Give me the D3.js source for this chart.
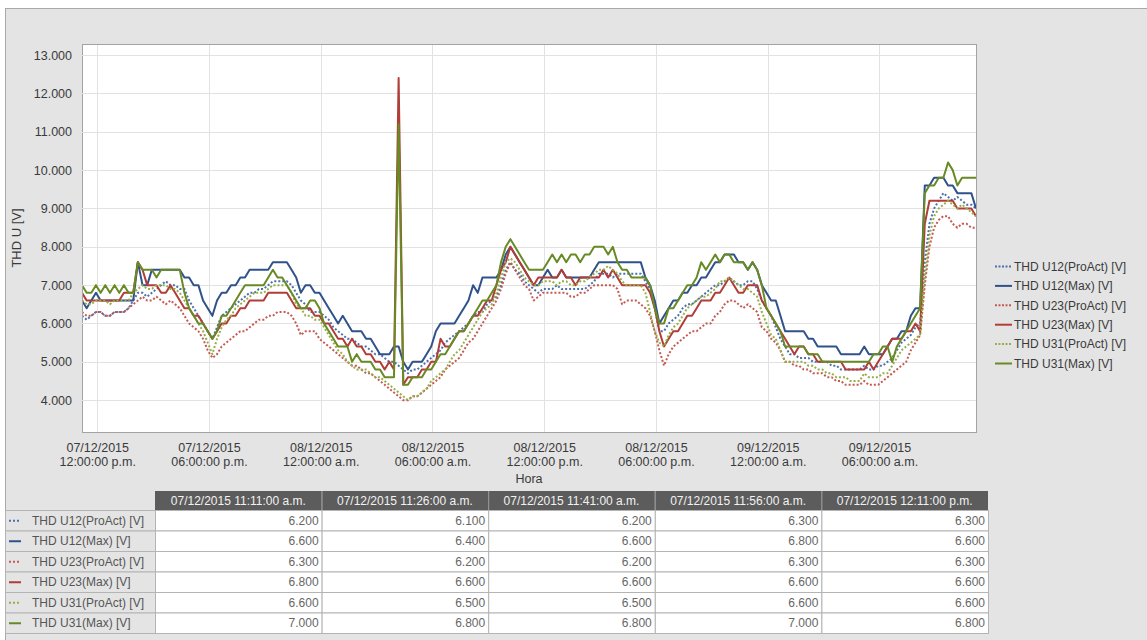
<!DOCTYPE html>
<html>
<head>
<meta charset="utf-8">
<script src="https://cdn.jsdelivr.net/npm/d3@7"></script>
<style>
  html, body { margin: 0; padding: 0; background: #fff; }
  svg { display: block; font-family: "Liberation Sans", Arial, sans-serif; }
</style>
</head>
<body>
<svg id="chart" width="1147" height="640"></svg>
<script>
// Sampling: one reading every 15 minutes, starting 07/12/2015 11:11 a.m.
const startTime = "2015-12-07T11:11:00Z";
const stepMinutes = 15;

const yTickValues = [4, 5, 6, 7, 8, 9, 10, 11, 12, 13];
const xAxisTitle = "Hora";
const yAxisTitle = "THD U [V]";

const seriesNames = [
  "THD U12(ProAct) [V]", "THD U12(Max) [V]",
  "THD U23(ProAct) [V]", "THD U23(Max) [V]",
  "THD U31(ProAct) [V]", "THD U31(Max) [V]"
];

const u12ProAct = [
  6.2,6.1,6.2,6.3,6.3,6.2,6.2,6.3,6.3,6.3,
  6.4,6.6,6.8,6.8,6.7,6.8,6.9,7.0,7.1,7.0,
  7.0,6.9,6.9,6.6,6.4,6.2,6.0,5.8,5.6,5.9,
  6.2,6.3,6.4,6.5,6.6,6.7,6.8,6.8,6.9,6.9,
  7.0,7.1,7.1,7.1,7.1,7.0,6.8,6.6,6.5,6.3,
  6.3,6.3,6.2,6.1,5.9,5.8,5.7,5.6,5.6,5.5,
  5.4,5.4,5.3,5.2,5.2,5.1,5.0,5.0,4.9,4.8,
  4.7,4.8,4.8,4.9,5.0,5.1,5.2,5.3,5.5,5.6,
  5.7,5.8,5.9,6.0,6.2,6.3,6.3,6.5,6.6,6.7,
  7.0,7.4,7.6,7.4,7.3,7.1,7.0,6.9,6.8,6.9,
  6.9,6.9,7.0,6.9,6.9,6.9,6.9,6.9,6.9,7.0,
  7.1,7.3,7.3,7.3,7.2,7.3,7.3,7.3,7.3,7.3,
  7.3,7.1,6.9,6.4,5.8,5.8,6.0,6.1,6.2,6.4,
  6.5,6.5,6.6,6.7,6.8,6.9,7.0,7.0,7.1,7.2,
  7.1,7.0,7.0,7.1,7.1,6.9,6.6,6.4,6.2,5.9,
  5.6,5.4,5.2,5.2,5.1,5.1,5.1,5.0,5.0,5.0,
  5.0,4.9,4.9,4.8,4.8,4.8,4.8,4.8,4.9,4.8,
  4.8,4.9,4.9,5.0,5.1,5.3,5.5,5.6,5.7,5.9,
  6.0,7.6,8.6,9.0,9.2,9.4,9.3,9.2,9.3,9.2,
  9.1,9.1,9.0
];

const u12Max = [
  6.6,6.4,6.6,6.8,6.6,6.6,6.6,6.6,6.6,6.6,
  6.6,6.6,7.6,7.0,7.0,7.4,7.4,7.4,7.4,7.4,
  7.4,7.4,7.2,7.2,7.0,7.0,6.6,6.4,6.2,6.6,
  6.8,6.8,7.0,7.0,7.2,7.2,7.4,7.4,7.4,7.4,
  7.4,7.6,7.6,7.6,7.6,7.4,7.2,6.8,7.0,7.0,
  6.8,6.8,6.6,6.4,6.2,6.0,6.2,6.0,5.8,5.8,
  5.8,5.6,5.6,5.4,5.2,5.2,5.2,5.4,5.4,5.0,
  4.8,5.0,5.0,5.0,5.2,5.4,5.8,6.0,6.0,6.0,
  6.0,6.2,6.4,6.6,7.0,6.8,7.2,7.2,7.2,7.2,
  7.4,7.8,8.0,7.8,7.6,7.4,7.2,7.0,7.0,7.2,
  7.4,7.2,7.2,7.4,7.2,7.2,7.2,7.2,7.2,7.2,
  7.4,7.6,7.6,7.6,7.6,7.6,7.6,7.6,7.6,7.6,
  7.6,7.2,7.0,6.6,6.0,6.2,6.4,6.6,6.6,6.8,
  6.8,7.0,7.0,7.2,7.2,7.4,7.6,7.6,7.8,7.8,
  7.8,7.6,7.6,7.4,7.6,7.4,7.0,6.8,6.6,6.6,
  6.2,5.8,5.8,5.8,5.8,5.8,5.6,5.6,5.4,5.4,
  5.4,5.4,5.4,5.2,5.2,5.2,5.2,5.2,5.4,5.2,
  5.2,5.2,5.2,5.4,5.6,5.6,5.8,5.8,6.2,6.4,
  6.4,9.6,9.6,9.8,9.8,9.8,9.6,9.6,9.4,9.4,
  9.4,9.4,9.0
];

const u23ProAct = [
  6.3,6.2,6.2,6.3,6.3,6.2,6.2,6.3,6.3,6.3,
  6.4,6.5,6.6,6.7,6.6,6.6,6.7,6.6,6.5,6.6,
  6.5,6.4,6.2,6.0,5.9,5.8,5.6,5.3,5.1,5.2,
  5.4,5.5,5.6,5.7,5.8,5.8,5.9,6.0,6.1,6.1,
  6.2,6.2,6.3,6.3,6.3,6.2,6.0,5.7,5.8,5.8,
  5.8,5.6,5.5,5.4,5.3,5.2,5.1,5.0,4.9,4.9,
  4.8,4.7,4.7,4.6,4.5,4.4,4.3,4.2,4.1,4.0,
  4.0,4.1,4.1,4.2,4.3,4.4,4.5,4.6,4.8,4.9,
  5.0,5.1,5.3,5.5,5.6,5.8,6.0,6.2,6.4,6.6,
  6.9,7.3,7.6,7.4,7.2,7.0,6.9,6.6,6.7,6.8,
  6.8,6.8,6.8,6.8,6.8,6.7,6.7,6.8,6.8,6.9,
  7.0,7.0,7.0,7.0,7.0,6.9,6.5,6.6,6.6,6.6,
  6.5,6.4,6.2,5.8,5.3,4.9,5.2,5.4,5.5,5.6,
  5.7,5.8,5.8,5.9,6.0,6.0,6.2,6.3,6.5,6.6,
  6.6,6.5,6.4,6.5,6.4,6.3,5.9,5.8,5.6,5.5,
  5.3,5.0,5.0,4.9,4.9,4.8,4.8,4.7,4.7,4.7,
  4.6,4.6,4.5,4.5,4.4,4.4,4.4,4.4,4.5,4.4,
  4.4,4.4,4.5,4.6,4.7,4.8,4.9,5.0,5.3,5.5,
  5.7,7.0,8.0,8.5,8.7,8.8,8.8,8.6,8.5,8.6,
  8.6,8.5,8.5
];

const u23Max = [
  6.8,6.6,6.6,6.6,6.6,6.6,6.6,6.6,6.6,6.8,
  6.8,6.8,7.6,7.4,7.0,7.0,7.0,6.8,6.8,7.0,
  6.8,6.6,6.4,6.4,6.2,6.2,6.0,5.8,5.6,5.8,
  6.0,6.0,6.2,6.2,6.4,6.4,6.6,6.6,6.6,6.6,
  6.8,6.8,6.8,6.8,6.8,6.6,6.4,6.4,6.4,6.4,
  6.2,6.2,6.0,6.0,5.8,5.6,5.6,5.4,5.6,5.4,
  5.4,5.2,5.2,5.0,5.0,4.8,5.0,4.8,12.4,4.4,
  4.6,4.6,4.6,4.8,4.8,5.0,5.0,5.6,5.4,5.4,
  5.6,5.8,5.8,6.0,6.2,6.2,6.4,6.6,6.6,7.0,
  7.4,7.6,8.0,7.8,7.6,7.4,7.2,7.0,7.2,7.2,
  7.2,7.2,7.2,7.4,7.2,7.2,7.0,7.2,7.2,7.2,
  7.2,7.2,7.4,7.2,7.4,7.2,7.0,7.0,7.0,7.0,
  7.0,7.0,6.8,6.4,5.8,5.4,5.6,5.8,5.8,6.0,
  6.2,6.2,6.4,6.6,6.6,6.6,6.8,6.8,7.0,7.2,
  7.0,6.8,6.8,7.0,7.0,7.0,6.6,6.4,6.2,6.0,
  5.8,5.6,5.4,5.2,5.4,5.4,5.2,5.2,5.0,5.0,
  5.0,5.0,5.0,5.0,4.8,4.8,4.8,4.8,4.8,5.0,
  4.8,5.0,5.2,5.4,5.6,5.6,5.6,5.8,5.8,6.0,
  5.8,8.6,9.2,9.2,9.2,9.2,9.2,9.2,9.0,9.0,
  9.0,9.0,8.8
];

const u31ProAct = [
  6.6,6.5,6.5,6.6,6.6,6.6,6.5,6.6,6.6,6.6,
  6.6,6.8,6.9,7.0,6.9,6.9,7.0,7.0,7.0,6.9,
  6.9,6.8,6.6,6.4,6.2,6.0,5.8,5.5,5.2,5.6,
  5.9,6.1,6.2,6.4,6.5,6.6,6.7,6.8,6.8,6.8,
  6.9,7.0,7.0,7.0,7.0,6.8,6.5,6.4,6.2,6.2,
  6.1,6.1,5.9,5.7,5.5,5.3,5.2,5.0,4.9,4.8,
  4.8,4.8,4.7,4.6,4.6,4.5,4.4,4.3,4.2,4.1,
  4.0,4.1,4.1,4.2,4.3,4.5,4.6,4.7,4.8,5.0,
  5.2,5.3,5.5,5.7,5.9,6.1,6.3,6.4,6.5,6.8,
  7.2,7.6,7.7,7.6,7.4,7.2,7.1,7.0,7.0,7.1,
  7.1,7.1,7.0,7.1,7.1,7.0,7.0,7.1,7.1,7.2,
  7.3,7.4,7.4,7.5,7.4,7.3,7.1,7.0,7.0,7.0,
  7.0,6.8,6.3,5.8,5.5,5.4,5.7,5.9,6.0,6.2,
  6.4,6.5,6.6,6.7,6.7,6.8,6.9,7.1,7.1,7.2,
  7.1,7.0,6.9,6.9,6.8,6.7,6.3,6.0,5.7,5.6,
  5.3,5.0,5.0,5.0,5.0,5.0,4.9,4.9,4.8,4.8,
  4.7,4.7,4.6,4.6,4.6,4.5,4.5,4.5,4.7,4.6,
  4.6,4.6,4.7,4.7,4.9,5.1,5.3,5.4,5.5,5.6,
  5.7,7.2,8.3,8.8,9.0,9.1,9.2,9.1,9.0,9.1,
  9.0,8.9,8.8
];

const u31Max = [
  7.0,6.8,6.8,7.0,6.8,7.0,6.8,7.0,6.8,7.0,
  6.8,6.8,7.6,7.4,7.4,7.4,7.2,7.4,7.4,7.4,
  7.4,7.4,6.8,6.4,6.2,6.0,6.0,5.8,5.6,5.8,
  6.2,6.2,6.4,6.6,6.8,7.0,7.0,7.0,7.0,7.0,
  7.2,7.4,7.2,7.2,7.0,6.8,6.6,6.4,6.4,6.6,
  6.6,6.4,6.0,5.8,5.6,5.4,5.4,5.4,5.0,5.2,
  5.0,5.0,5.0,4.8,4.8,4.6,4.6,4.6,11.2,4.4,
  4.4,4.6,4.6,4.6,4.8,4.8,5.0,5.2,5.2,5.4,
  5.6,5.8,5.8,6.0,6.2,6.4,6.6,6.6,6.8,7.0,
  7.6,8.0,8.2,8.0,7.8,7.6,7.4,7.4,7.4,7.4,
  7.6,7.8,7.6,7.8,7.6,7.8,7.8,7.6,7.8,7.8,
  8.0,8.0,8.0,7.8,8.0,7.6,7.4,7.4,7.2,7.2,
  7.2,7.2,7.0,6.4,6.0,6.0,6.4,6.4,6.6,6.8,
  7.0,7.0,7.2,7.6,7.4,7.6,7.8,7.6,7.8,7.8,
  7.6,7.6,7.6,7.4,7.6,7.4,7.0,6.4,6.2,6.0,
  5.8,5.4,5.4,5.4,5.4,5.4,5.2,5.2,5.2,5.0,
  5.0,5.0,5.0,5.0,5.0,5.0,5.0,5.0,5.0,5.0,
  5.2,5.2,5.4,5.4,5.0,5.4,5.6,5.8,6.0,6.2,
  6.4,9.4,9.6,9.6,9.8,9.8,10.2,10.0,9.6,9.8,
  9.8,9.8,9.8
];

const seriesValues = [u12ProAct, u12Max, u23ProAct, u23Max, u31ProAct, u31Max];
const seriesColors = ["#4b70ab", "#30528a", "#c45a52", "#b03d37", "#97ae48", "#688a24"];
const seriesDotted = [true, false, true, false, true, false];

// number of readings listed in the table under the chart
const tableRows = 5;

// ---------------------------------------------------------------
const t0 = Date.parse(startTime);
const times = d3.range(u12ProAct.length).map(i => new Date(t0 + i * stepMinutes * 60000));

const fmtDate = d3.utcFormat("%d/%m/%Y");
const fmtClockBase = d3.utcFormat("%I:%M:%S");
const fmtClock = d => fmtClockBase(d) + (d.getUTCHours() < 12 ? " a.m." : " p.m.");
const fmtValue = d3.format(".3f");

const svg = d3.select("#chart");
const W = 1147, H = 640;
const plot = { left: 82, top: 44, right: 976, bottom: 432 };

// page and panel background
svg.append("rect").attr("width", W).attr("height", H).attr("fill", "#ffffff");
svg.append("rect").attr("x", 5).attr("y", 8).attr("width", W - 5).attr("height", H - 8).attr("fill", "#e4e4e4");
svg.append("line").attr("x1", 5).attr("x2", W).attr("y1", 8.5).attr("y2", 8.5).attr("stroke", "#a9a9a9");
svg.append("line").attr("x1", 5.5).attr("x2", 5.5).attr("y1", 8).attr("y2", H).attr("stroke", "#a9a9a9");

const x = d3.scaleUtc()
  .domain([times[0], times[times.length - 1]])
  .range([plot.left, plot.right]);
const y = d3.scaleLinear()
  .domain([3.17, 13.29])
  .range([plot.bottom, plot.top]);

// plot area
svg.append("rect")
  .attr("x", plot.left + 0.5).attr("y", plot.top + 0.5)
  .attr("width", plot.right - plot.left).attr("height", plot.bottom - plot.top)
  .attr("fill", "#ffffff").attr("stroke", "#a3a3a3");

const xTicks = x.ticks(d3.utcHour.every(6));

// grid
const grid = svg.append("g");
grid.selectAll("line.h").data(yTickValues).join("line")
  .attr("class", "h")
  .attr("x1", plot.left - 3).attr("x2", plot.right)
  .attr("y1", d => Math.round(y(d)) + 0.5).attr("y2", d => Math.round(y(d)) + 0.5)
  .attr("stroke", "#e2e2e2");
grid.selectAll("line.v").data(xTicks).join("line")
  .attr("class", "v")
  .attr("x1", d => Math.round(x(d)) + 0.5).attr("x2", d => Math.round(x(d)) + 0.5)
  .attr("y1", plot.top + 1).attr("y2", plot.bottom)
  .attr("stroke", "#e2e2e2");

// y axis labels
const yAxis = d3.axisLeft(y).tickValues(yTickValues).tickFormat(fmtValue).tickSize(0).tickPadding(0);
const yAxisG = svg.append("g").attr("transform", `translate(${plot.left - 10},0)`).call(yAxis);
yAxisG.select(".domain").remove();
yAxisG.selectAll("text")
  .attr("font-family", '"Liberation Sans", Arial, sans-serif')
  .attr("font-size", 12.5).attr("fill", "#3a3a3a");

svg.append("text")
  .attr("transform", `translate(21,${(plot.top + plot.bottom) / 2}) rotate(-90)`)
  .attr("text-anchor", "middle")
  .attr("font-size", 13).attr("fill", "#3a3a3a")
  .text(yAxisTitle);

// x axis labels (two lines each)
const xAxis = d3.axisBottom(x).tickValues(xTicks).tickSize(0).tickPadding(0).tickFormat("");
const xAxisG = svg.append("g").attr("transform", `translate(0,${plot.bottom})`).call(xAxis);
xAxisG.select(".domain").remove();
xAxisG.selectAll(".tick").each(function (d) {
  const t = d3.select(this).append("text")
    .attr("text-anchor", "middle")
    .attr("font-family", '"Liberation Sans", Arial, sans-serif')
    .attr("font-size", 12.5).attr("fill", "#3a3a3a");
  t.append("tspan").attr("x", 0).attr("y", 20).text(fmtDate(d));
  t.append("tspan").attr("x", 0).attr("y", 34).text(fmtClock(d));
});

svg.append("text")
  .attr("x", (plot.left + plot.right) / 2).attr("y", plot.bottom + 51)
  .attr("text-anchor", "middle")
  .attr("font-size", 12.5).attr("fill", "#3a3a3a")
  .text(xAxisTitle);

// series
svg.append("clipPath").attr("id", "plotClip")
  .append("rect")
  .attr("x", plot.left + 1).attr("y", plot.top + 1)
  .attr("width", plot.right - plot.left - 1).attr("height", plot.bottom - plot.top - 1);

const line = d3.line()
  .x((d, i) => x(times[i]))
  .y(d => y(d));

const lines = svg.append("g").attr("clip-path", "url(#plotClip)");
seriesValues.forEach((vals, s) => {
  lines.append("path")
    .attr("d", line(vals))
    .attr("fill", "none")
    .attr("stroke", seriesColors[s])
    .attr("stroke-width", 2)
    .attr("stroke-linejoin", "round")
    .attr("stroke-dasharray", seriesDotted[s] ? "2,2" : null);
});

// legend
const legend = svg.append("g");
seriesNames.forEach((name, s) => {
  const cy = 266.5 + s * 19.4;
  legend.append("line")
    .attr("x1", 995).attr("x2", 1012).attr("y1", cy).attr("y2", cy)
    .attr("stroke", seriesColors[s]).attr("stroke-width", 2)
    .attr("stroke-dasharray", seriesDotted[s] ? "2,1.5" : null);
  legend.append("text")
    .attr("x", 1014).attr("y", cy).attr("dy", "0.35em")
    .attr("font-size", 12).attr("fill", "#3a3a3a")
    .text(name);
});

// data table with the first readings
const tbl = { left: 5, labelRight: 155, right: 988, headTop: 491, headH: 19, rowH: 20.5 };
const colW = (tbl.right - tbl.labelRight) / tableRows;
const table = svg.append("g");

for (let j = 0; j < tableRows; j++) {
  const cx = tbl.labelRight + j * colW;
  table.append("rect")
    .attr("x", cx).attr("y", tbl.headTop)
    .attr("width", colW).attr("height", tbl.headH)
    .attr("fill", "#5c5c5c");
  if (j > 0) {
    table.append("line")
      .attr("x1", cx + 0.5).attr("x2", cx + 0.5)
      .attr("y1", tbl.headTop).attr("y2", tbl.headTop + tbl.headH)
      .attr("stroke", "#9a9a9a");
  }
  table.append("text")
    .attr("x", cx + colW / 2).attr("y", tbl.headTop + tbl.headH / 2).attr("dy", "0.35em")
    .attr("text-anchor", "middle")
    .attr("font-size", 12).attr("fill", "#f2f2f2")
    .text(fmtDate(times[j]) + " " + fmtClock(times[j]));
}

seriesNames.forEach((name, s) => {
  const ry = tbl.headTop + tbl.headH + s * tbl.rowH;
  table.append("rect")
    .attr("x", tbl.left + 0.5).attr("y", ry + 0.5)
    .attr("width", tbl.labelRight - tbl.left).attr("height", tbl.rowH)
    .attr("fill", "#e4e4e4").attr("stroke", "#b4b4b4");
  table.append("line")
    .attr("x1", 9).attr("x2", 21).attr("y1", ry + tbl.rowH / 2 + 0.5).attr("y2", ry + tbl.rowH / 2 + 0.5)
    .attr("stroke", seriesColors[s]).attr("stroke-width", 2)
    .attr("stroke-dasharray", seriesDotted[s] ? "2,2" : null);
  table.append("text")
    .attr("x", 32).attr("y", ry + tbl.rowH / 2 + 0.5).attr("dy", "0.35em")
    .attr("font-size", 12).attr("fill", "#555555")
    .text(name);
  for (let j = 0; j < tableRows; j++) {
    const cx = tbl.labelRight + j * colW;
    table.append("rect")
      .attr("x", cx + 0.5).attr("y", ry + 0.5)
      .attr("width", colW).attr("height", tbl.rowH)
      .attr("fill", "#ffffff").attr("stroke", "#b4b4b4");
    table.append("text")
      .attr("x", cx + colW - 3).attr("y", ry + tbl.rowH / 2 + 0.5).attr("dy", "0.35em")
      .attr("text-anchor", "end")
      .attr("font-size", 12).attr("fill", "#666666")
      .text(fmtValue(seriesValues[s][j]));
  }
});
</script>
</body>
</html>
